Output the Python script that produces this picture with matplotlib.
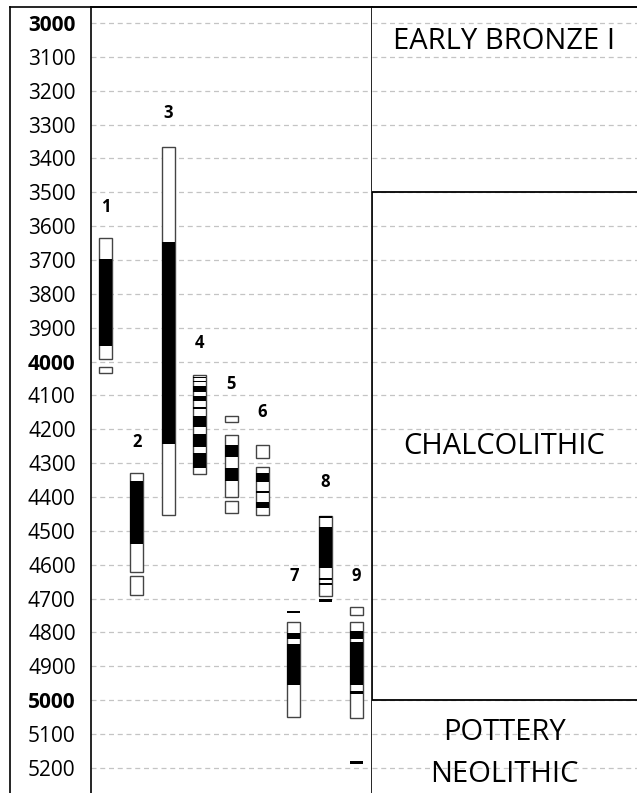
import matplotlib
matplotlib.use('Agg')
import matplotlib.pyplot as plt
from matplotlib.lines import Line2D
from matplotlib.patches import Rectangle
import matplotlib.transforms as mtransforms

plt.rcParams['font.family'] = ['Open Sans', 'DejaVu Sans']

# Data ----
# sample columns and the labels above them
col_labels = ['1', '2', '3', '4', '5', '6', '7', '8', '9']
label_y = [3543, 4237, 3266, 3945, 4066, 4149, 4633, 4355, 4633]

# outlined (white) ranges, years BC
box_col = [1, 1, 2, 2, 3, 4, 5, 5, 5, 6, 6, 7, 8, 9, 9]
box_start = [3636, 4017, 4328, 4632, 3365, 4039, 4162, 4218, 4411, 4246, 4312, 4770, 4455, 4726, 4770]
box_end = [3993, 4033, 4622, 4688, 4452, 4332, 4178, 4401, 4448, 4284, 4453, 5050, 4691, 4747, 5053]

# black ranges, years BC
blk_col = [1, 2, 3,
           4, 4, 4, 4, 4, 4, 4, 4,
           5, 5,
           6, 6, 6,
           7, 7, 7,
           8, 8, 8, 8, 8,
           9, 9, 9, 9]
blk_start = [3697, 4354, 3646,
             4046, 4056, 4072, 4103, 4135, 4161, 4214, 4271,
             4246, 4315,
             4328, 4381, 4416,
             4736, 4802, 4834,
             4455, 4489, 4640, 4655, 4701,
             4797, 4827, 4972, 5180]
blk_end = [3954, 4539, 4243,
           4050, 4061, 4089, 4115, 4141, 4192, 4253, 4315,
           4283, 4352,
           4355, 4389, 4433,
           4741, 4820, 4955,
           4461, 4610, 4645, 4661, 4709,
           4820, 4955, 4982, 5187]

# periods
period_names = ['EARLY BRONZE I', 'CHALCOLITHIC', 'POTTERY\nNEOLITHIC']
period_text_y = [3056, 4252, 5158]
chalco_start = 3500
chalco_end = 5000

yticks = list(range(3000, 5300, 100))
bold_ticks = [3000, 4000, 5000]

# Figure ----
W, H = 637, 793
fig = plt.figure(figsize=(W / 100, H / 100), dpi=100)
top = 1 - 7 / H
ax = fig.add_axes([91 / W, 0, (372 - 91) / W, top])
ax2 = fig.add_axes([372 / W, 0, (W - 372) / W, top], sharey=ax)

ymin, ymax = 2953, 5274
ax.set_ylim(ymax, ymin)
ax.set_xlim(0.538, 9.487)
ax2.set_xlim(0, 1)

for a in (ax, ax2):
    a.set_yticks(yticks)
    a.grid(axis='y', color='#c4c4c4', linestyle=(0, (4, 3)), linewidth=0.9)
    a.set_axisbelow(True)
    a.set_xticks([])
    a.spines['bottom'].set_visible(False)
    for s in a.spines.values():
        s.set_linewidth(1.2)
ax2.spines['left'].set_visible(False)
ax2.spines['right'].set_visible(False)
ax2.tick_params(axis='y', left=False, labelleft=False)

ax.tick_params(axis='y', length=0, pad=11, labelsize=15)
ax.set_yticklabels([str(t) for t in yticks])
for lab, t in zip(ax.get_yticklabels(), yticks):
    if t in bold_ticks:
        lab.set_fontweight('bold')

# bars
bw = 0.41
for c, s, e in zip(box_col, box_start, box_end):
    ax.bar(c, e - s, bottom=s, width=bw, color='white', edgecolor='#444444', linewidth=1.0, zorder=3)
for c, s, e in zip(blk_col, blk_start, blk_end):
    ax.bar(c, e - s, bottom=s, width=bw, color='black', edgecolor='none', linewidth=0, zorder=4)

for i, (lab, y) in enumerate(zip(col_labels, label_y)):
    ax.text(i + 1, y, lab, ha='center', va='center', fontsize=12, fontweight='bold', zorder=5)

# period panel
trans = mtransforms.blended_transform_factory(ax2.transAxes, ax2.transData)
ax2.add_patch(Rectangle((0, chalco_start), 1.2, chalco_end - chalco_start, transform=trans,
                        facecolor='none', edgecolor='black', linewidth=1.3, zorder=4))
for name, y in zip(period_names, period_text_y):
    ax2.text(0.5, y, name, transform=trans, ha='center', va='center', fontsize=21,
             linespacing=1.6, zorder=5)

# outer frame
fig.add_artist(Line2D([10 / W, 10 / W], [0, top], transform=fig.transFigure, color='black', linewidth=1.2))
fig.add_artist(Line2D([10 / W, 1], [top, top], transform=fig.transFigure, color='black', linewidth=1.2))

fig.savefig('out.png', dpi=100)
